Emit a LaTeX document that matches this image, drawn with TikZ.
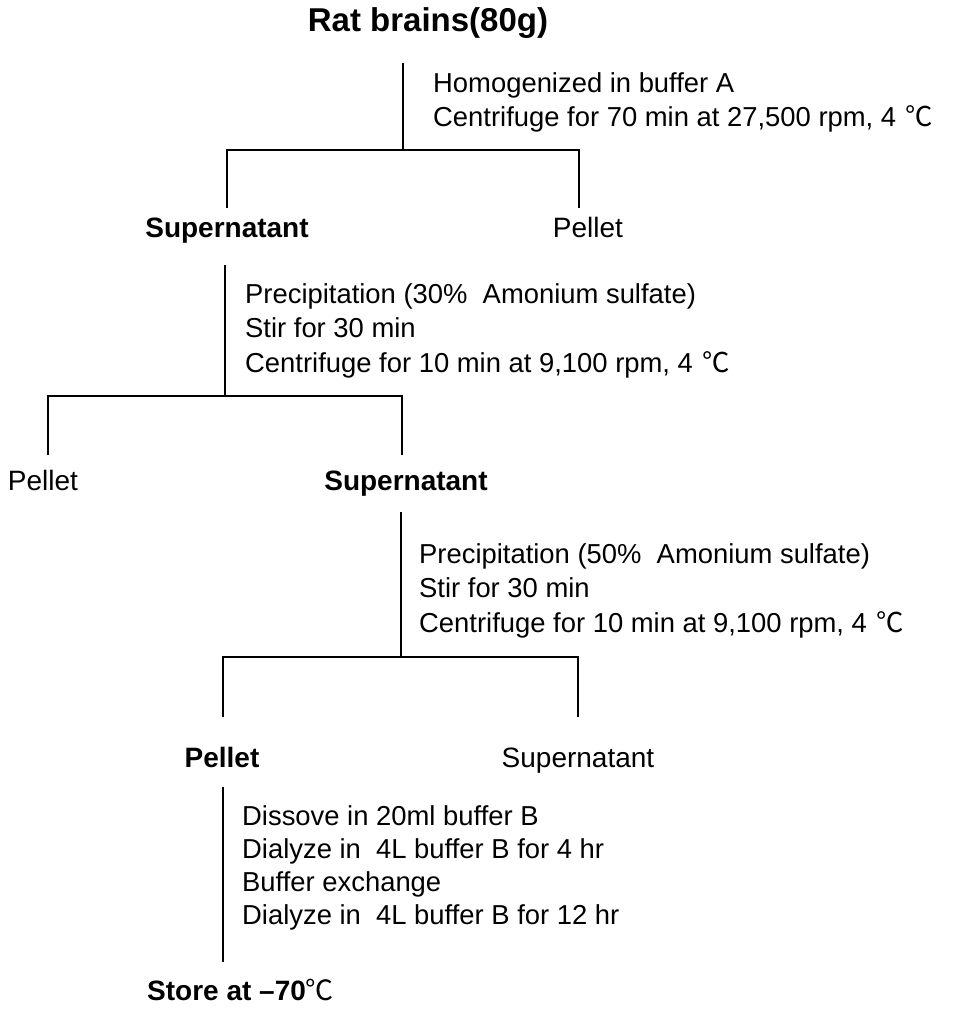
\documentclass[tikz,border=0pt]{standalone}
\usepackage{fontspec}
\setmainfont{Liberation Sans}
\newfontfamily\degfont{Noto Sans CJK KR}
\newcommand{\degC}{{\degfont\mdseries ℃}}

\begin{document}
\begin{tikzpicture}[x=1pt, y=-1pt,
    lbl/.style={inner sep=0, anchor=base, font=\fontsize{28}{34}\selectfont},
    lblb/.style={lbl, font=\fontsize{28}{34}\selectfont\bfseries},
    note/.style={inner sep=0, anchor=north west, align=left, font=\fontsize{27.4}{34.5}\selectfont},
    link/.style={line width=2pt}
]
\useasboundingbox (0,0) rectangle (962,1014);

% labels
\node[lblb, font=\fontsize{33}{40}\selectfont\bfseries] (rat) at (428,32) {Rat brains(80g)};
\node[lblb] (sup1) at (227,237) {Supernatant};
\node[lbl] (pel1) at (588,237) {Pellet};
\node[lbl] (pel2) at (43,490) {Pellet};
\node[lblb] (sup2) at (406,490) {Supernatant};
\node[lblb] (pel3) at (222,767) {Pellet};
\node[lbl] (sup3) at (578,767) {Supernatant};
\node[lblb, anchor=base west] (store) at (147,1000) {Store at \textendash70\degC};

% steps
\node[note] (hom) at (433,72) {Homogenized in buffer A\\Centrifuge for 70 min at 27,500 rpm, 4\hspace{0.35em}\degC};
\node[note] (prec1) at (245,283) {Precipitation (30\%\ \ Amonium sulfate)\\Stir for 30 min\\Centrifuge for 10 min at 9,100 rpm, 4\hspace{0.35em}\degC};
\node[note] (prec2) at (419,543) {Precipitation (50\%\ \ Amonium sulfate)\\Stir for 30 min\\Centrifuge for 10 min at 9,100 rpm, 4\hspace{0.35em}\degC};
\node[note, font=\fontsize{27.4}{33.3}\selectfont] (dial) at (242,805) {Dissove in 20ml buffer B\\Dialyze in\ \ 4L buffer B for 4 hr\\Buffer exchange\\Dialyze in\ \ 4L buffer B for 12 hr};

% tree points
\coordinate (r0) at (403,63);  \coordinate (r1) at (403,150);
\coordinate (a1) at (227,208); \coordinate (a2) at (227,150);
\coordinate (a3) at (579,150); \coordinate (a4) at (579,208);
\coordinate (s0) at (225,265); \coordinate (s1) at (225,396);
\coordinate (b1) at (48,455);  \coordinate (b2) at (48,396);
\coordinate (b3) at (402,396); \coordinate (b4) at (402,455);
\coordinate (t0) at (401,512); \coordinate (t1) at (401,657);
\coordinate (c1) at (223,717); \coordinate (c2) at (223,657);
\coordinate (c3) at (578,657); \coordinate (c4) at (578,717);
\coordinate (p0) at (223,787); \coordinate (p1) at (223,962);

\draw[link] (r0) -- (r1);
\draw[link] (a1) -- (a2) -- (a3) -- (a4);
\draw[link] (s0) -- (s1);
\draw[link] (b1) -- (b2) -- (b3) -- (b4);
\draw[link] (t0) -- (t1);
\draw[link] (c1) -- (c2) -- (c3) -- (c4);
\draw[link] (p0) -- (p1);
\end{tikzpicture}
\end{document}
